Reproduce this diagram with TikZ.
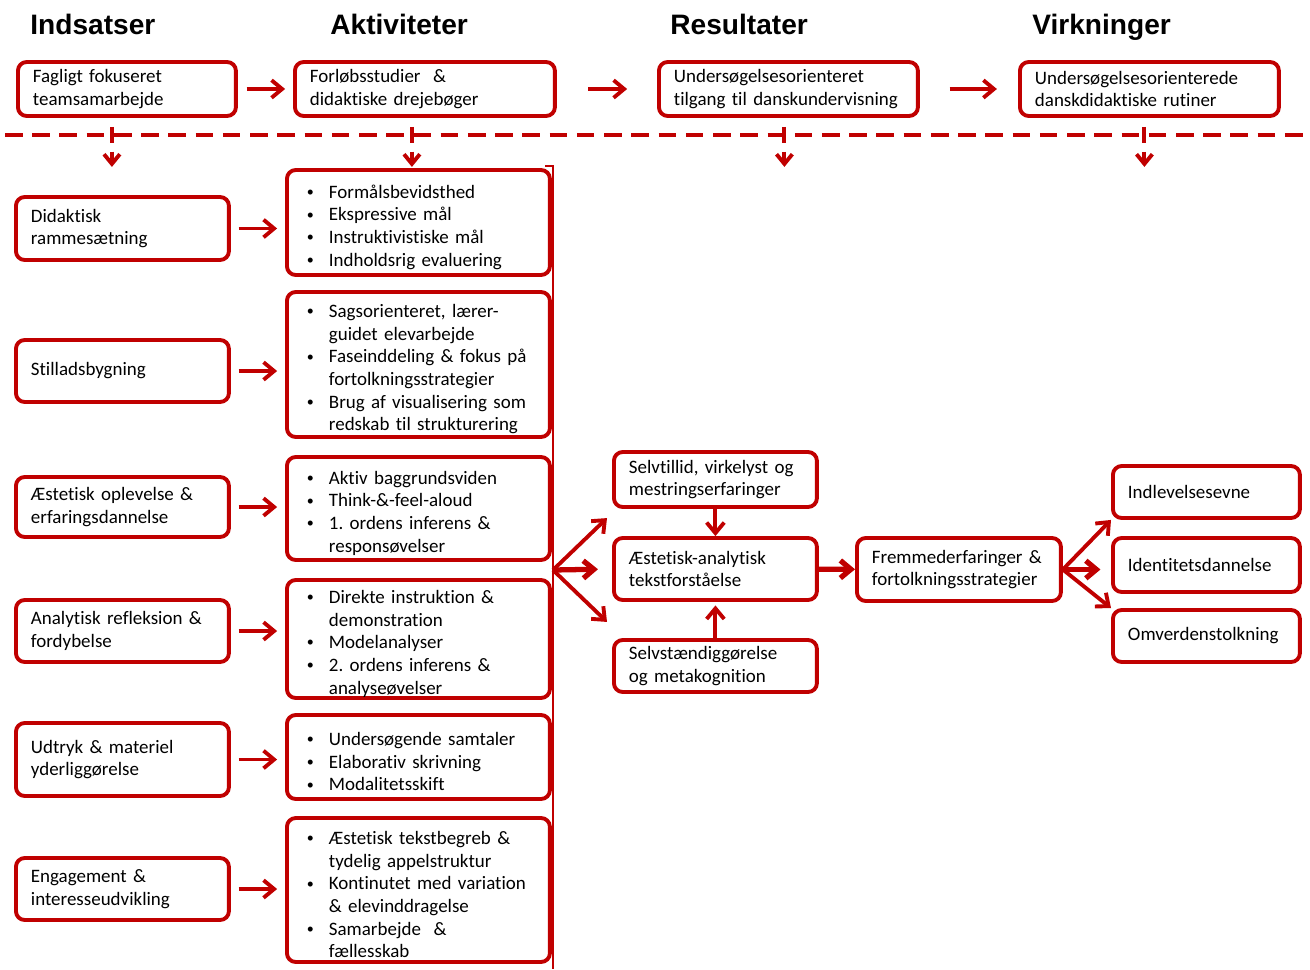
\documentclass[tikz,border=0pt]{standalone}
\usepackage{fontspec}
\setmainfont{Carlito}[Ligatures=NoCommon]
\newfontfamily\headfont{Liberation Sans}
\usepackage{enumitem}
\setlist[itemize]{nosep, leftmargin=0.54cm, labelsep=0.3cm, label=\raisebox{0.2ex}{\footnotesize\textbullet}}
\usetikzlibrary{arrows.meta, calc}
\definecolor{darkred}{RGB}{192,0,0}
\frenchspacing

\tikzset{
  box/.style={draw=darkred, line width=2.2pt, rounded corners=5pt, anchor=west, align=left,
    inner xsep=0.3cm, inner ysep=0pt, font=\fontsize{10.8}{12.9}\selectfont},
  hd/.style={anchor=base west, inner sep=0pt, font=\headfont\fontsize{16}{19}\selectfont\bfseries},
  arr/.style={draw=darkred, line width=2.2pt, -{Straight Barb[length=6pt, width=10pt]}},
  thickarr/.style={arr, line width=3pt},
  dn/.style={arr, dash pattern=on 9pt off 5pt, -{Straight Barb[length=5.5pt, width=9pt]}},
}

\begin{document}
\begin{tikzpicture}[x=0.02cm, y=-0.02cm]
\useasboundingbox (0,0) rectangle (1310,969);

% overskrifter
\node[hd] (h1) at (30,35) {Indsatser};
\node[hd] (h2) at (330,35) {Aktiviteter};
\node[hd] (h3) at (670,35) {Resultater};
\node[hd] (h4) at (1032,35) {Virkninger};

% oeverste raekke
\node[box, text width=3.76cm, minimum height=1.08cm] (ind) at (16,89) {Fagligt fokuseret\\teamsamarbejde};
\node[box, text width=4.6cm, minimum height=1.08cm] (akt) at (293,89) {Forløbsstudier\ \ \&\\didaktiske drejebøger};
\node[box, text width=4.58cm, minimum height=1.08cm] (res) at (657,89) {Undersøgelsesorienteret\\tilgang til danskundervisning};
\node[box, text width=4.58cm, minimum height=1.08cm] (virk) at (1018,89) {Undersøgelsesorienterede\\danskdidaktiske rutiner};

\draw[arr, shorten <=5pt, shorten >=4.5pt] (ind) -- (akt);
\draw[arr, shorten <=18pt, shorten >=17pt] (akt) -- (res);
\draw[arr, shorten <=17pt, shorten >=12pt] (res) -- (virk);

% stiplet skillelinje
\draw[darkred, line width=2.2pt, dash pattern=on 10pt off 5.5pt] (5,135) -- (1310,135);
\draw[dn] ($(ind.south)+(-15,9)$) -- ++(0,40);
\draw[dn] ($(akt.south)+(-13,9)$) -- ++(0,40);
\draw[dn] ($(res.south)+(-4,9)$) -- ++(0,40);
\draw[dn] ($(virk.south)+(-5,9)$) -- ++(0,40);

% indsatser
\node[box, text width=3.66cm, minimum height=1.26cm] (L1) at (14,228.5) {Didaktisk\\rammesætning};
\node[box, text width=3.66cm, minimum height=1.24cm] (L2) at (14,371) {Stilladsbygning};
\node[box, text width=3.66cm, minimum height=1.2cm] (L3) at (14,507) {Æstetisk oplevelse \&\\erfaringsdannelse};
\node[box, text width=3.66cm, minimum height=1.24cm] (L4) at (14,631) {Analytisk refleksion \&\\fordybelse};
\node[box, text width=3.66cm, minimum height=1.46cm] (L5) at (14,759.5) {Udtryk \& materiel\\yderliggørelse};
\node[box, text width=3.66cm, minimum height=1.24cm] (L6) at (14,889) {Engagement \&\\interesseudvikling};

% aktiviteter
\node[box, text width=4.66cm, minimum height=2.1cm] (M1) at (285,222.5) {\begin{itemize}
  \item Formålsbevidsthed
  \item Ekspressive mål
  \item Instruktivistiske mål
  \item Indholdsrig evaluering
\end{itemize}};
\node[box, text width=4.66cm, minimum height=2.9cm] (M2) at (285,364.5) {\begin{itemize}
  \item Sagsorienteret, lærer-\\guidet elevarbejde
  \item Faseinddeling \& fokus på\\fortolkningsstrategier
  \item Brug af visualisering som\\redskab til strukturering
\end{itemize}};
\node[box, text width=4.66cm, minimum height=2.06cm] (M3) at (285,508.5) {\begin{itemize}
  \item Aktiv baggrundsviden
  \item Think-\&-feel-aloud
  \item 1. ordens inferens \&\\responsøvelser
\end{itemize}};
\node[box, text width=4.66cm, minimum height=2.36cm] (M4) at (285,639) {\begin{itemize}
  \item Direkte instruktion \&\\demonstration
  \item Modelanalyser
  \item 2. ordens inferens \&\\analyseøvelser
\end{itemize}};
\node[box, text width=4.66cm, minimum height=1.68cm] (M5) at (285,757) {\begin{itemize}
  \item Undersøgende samtaler
  \item Elaborativ skrivning
  \item Modalitetsskift
\end{itemize}};
\node[box, text width=4.66cm, minimum height=2.88cm] (M6) at (285,890) {\begin{itemize}
  \item Æstetisk tekstbegreb \&\\tydelig appelstruktur
  \item Kontinutet med variation\\\& elevinddragelse
  \item Samarbejde\ \ \&\\fællesskab
\end{itemize}};

\foreach \i in {1,...,6}{
  \draw[arr, shorten <=4.5pt, shorten >=4.5pt] (L\i.east) -- (L\i.east -| M\i.west);}

% samlelinje
\coordinate (bartop) at (553,166);
\coordinate (barbot) at (553,969);
\coordinate (hub) at (553,570);
\draw[darkred, line width=1.5pt] ([xshift=-0.16cm]bartop) -- (bartop) -- (barbot);

% resultater
\node[box, text width=3.46cm, minimum height=1.1cm] (R1) at (612,479.5) {Selvtillid, virkelyst og\\mestringserfaringer};
\node[box, text width=3.46cm, minimum height=1.24cm] (R2) at (612,569) {Æstetisk-analytisk\\tekstforståelse};
\node[box, text width=3.46cm, minimum height=1.04cm] (R3) at (612,666) {Selvstændiggørelse\\og metakognition};
\node[box, text width=3.48cm, minimum height=1.26cm] (F) at (855,569.5) {Fremmederfaringer \&\\fortolkningsstrategier};

\draw[arr] (hub) -- ($(R2.north west)+(-5,-18)$);
\draw[thickarr, shorten >=8pt] (hub) -- (R2.west);
\draw[arr] (hub) -- ($(R2.south west)+(-5,20)$);
\draw[arr] (R1) -- (R2);
\draw[arr, shorten >=2pt] (R3) -- (R2);
\draw[thickarr] (R2) -- (F);

% virkninger
\node[box, text width=3.14cm, minimum height=1.04cm] (V1) at (1111,492) {Indlevelsesevne};
\node[box, text width=3.14cm, minimum height=1.08cm] (V2) at (1111,565) {Identitetsdannelse};
\node[box, text width=3.14cm, minimum height=1.04cm] (V3) at (1111,636) {Omverdenstolkning};

\draw[arr] (F.east) -- (V1.south west);
\draw[thickarr, shorten >=6pt] (F.east) -- (F.east -| V2.west);
\draw[arr] (F.east) -- (V3.north west);
\end{tikzpicture}
\end{document}
